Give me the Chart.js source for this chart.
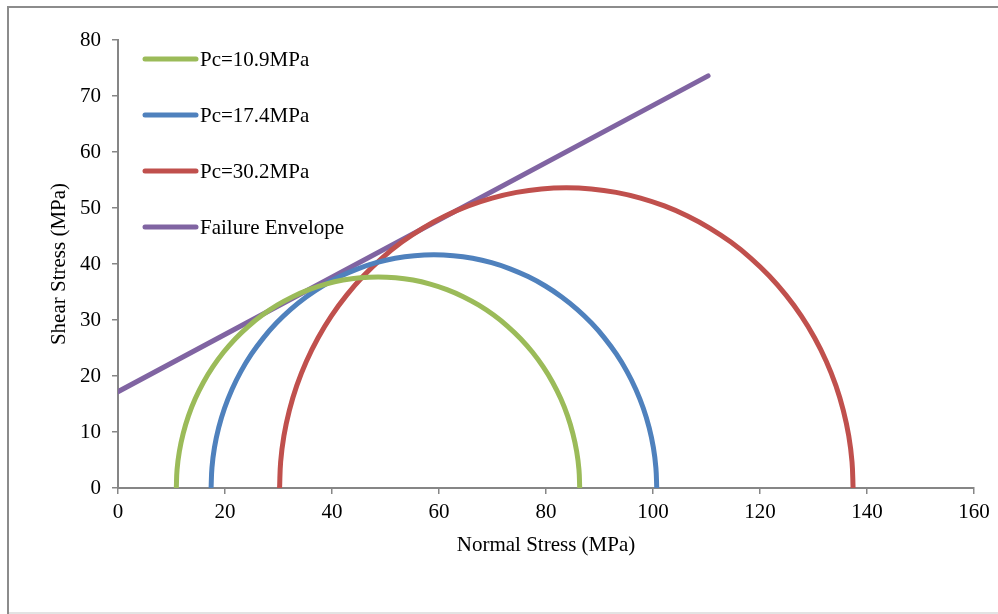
<!DOCTYPE html>
<html>
<head>
<meta charset="utf-8">
<script src="https://cdn.jsdelivr.net/npm/chart.js@4.4.0/dist/chart.umd.min.js"></script>
<style>
  html, body { margin: 0; padding: 0; background: #fff; }
  #wrap { position: relative; width: 998px; height: 614px; overflow: hidden; }
  #c { position: absolute; left: 0; top: 0; }
  #frameTop { position: absolute; left: 7px; top: 6px; width: 991px; height: 2px; background: #8c8c8c; }
  #frameLeft { position: absolute; left: 7px; top: 6px; width: 2px; height: 608px; background: #8c8c8c; }
  #frameBottom { position: absolute; left: 9px; top: 612px; width: 989px; height: 2px; background: #e3e3e3; }
</style>
</head>
<body>
<div id="wrap">
  <canvas id="c" width="998" height="614"></canvas>
  <div id="frameTop"></div>
  <div id="frameLeft"></div>
  <div id="frameBottom"></div>
</div>
<script>
// ---- data ----
const seriesLabels = ["Pc=10.9MPa", "Pc=17.4MPa", "Pc=30.2MPa", "Failure Envelope"];

const greenX = [10.9, 11.04, 11.47, 12.19, 13.17, 14.43, 15.95, 17.72, 19.72, 21.94, 24.37, 26.98, 29.75, 32.67, 35.71, 38.84, 42.06, 45.31, 48.6,
                51.89, 55.14, 58.36, 61.49, 64.53, 67.45, 70.22, 72.83, 75.26, 77.48, 79.48, 81.25, 82.77, 84.03, 85.01, 85.73, 86.16, 86.3];
const greenY = [0, 3.29, 6.54, 9.76, 12.89, 15.93, 18.85, 21.62, 24.23, 26.66, 28.88, 30.88, 32.65, 34.17, 35.43, 36.41, 37.13, 37.56, 37.7,
                37.56, 37.13, 36.41, 35.43, 34.17, 32.65, 30.88, 28.88, 26.66, 24.23, 21.62, 18.85, 15.93, 12.89, 9.76, 6.54, 3.29, 0];

const blueX = [17.4, 17.56, 18.03, 18.82, 19.91, 21.3, 22.98, 24.93, 27.15, 29.6, 32.28, 35.16, 38.22, 41.45, 44.81, 48.27, 51.82, 55.42, 59.05,
               62.68, 66.28, 69.83, 73.29, 76.65, 79.88, 82.94, 85.82, 88.5, 90.95, 93.17, 95.12, 96.8, 98.19, 99.28, 100.07, 100.54, 100.7];
const blueY = [0, 3.63, 7.23, 10.78, 14.24, 17.6, 20.83, 23.89, 26.77, 29.45, 31.9, 34.12, 36.07, 37.75, 39.14, 40.23, 41.02, 41.49, 41.65,
               41.49, 41.02, 40.23, 39.14, 37.75, 36.07, 34.12, 31.9, 29.45, 26.77, 23.89, 20.83, 17.6, 14.24, 10.78, 7.23, 3.63, 0];

const redX = [30.2, 30.4, 31.01, 32.03, 33.43, 35.22, 37.38, 39.89, 42.74, 45.9, 49.35, 53.05, 57.0, 61.15, 65.47, 69.93, 74.49, 79.13, 83.8,
              88.47, 93.11, 97.67, 102.13, 106.45, 110.6, 114.55, 118.25, 121.7, 124.86, 127.71, 130.22, 132.38, 134.17, 135.57, 136.59, 137.2, 137.4];
const redY = [0, 4.67, 9.31, 13.87, 18.33, 22.65, 26.8, 30.75, 34.45, 37.9, 41.06, 43.91, 46.42, 48.58, 50.37, 51.77, 52.79, 53.4, 53.6,
              53.4, 52.79, 51.77, 50.37, 48.58, 46.42, 43.91, 41.06, 37.9, 34.45, 30.75, 26.8, 22.65, 18.33, 13.87, 9.31, 4.67, 0];

const envelopeX = [0, 110.3];
const envelopeY = [17.2, 73.6];

const xTicks = [0, 20, 40, 60, 80, 100, 120, 140, 160];
const yTicks = [0, 10, 20, 30, 40, 50, 60, 70, 80];

const colors = ["#9BBB59", "#4F81BD", "#C0504D", "#8064A2"];

function pts(xs, ys) { return xs.map((x, i) => ({ x: x, y: ys[i] })); }

const FONT = "'Liberation Serif', 'Times New Roman', serif";

const legendPlugin = {
  id: 'customLegend',
  afterDatasetsDraw(chart) {
    const ctx = chart.ctx;
    ctx.save();
    chart.data.datasets.forEach((ds, i) => {
      const y = 59 + i * 56;
      ctx.strokeStyle = ds.borderColor;
      ctx.lineWidth = 5;
      ctx.lineCap = 'round';
      ctx.beginPath();
      ctx.moveTo(145, y);
      ctx.lineTo(196, y);
      ctx.stroke();
      ctx.fillStyle = '#000';
      ctx.font = '21px ' + FONT;
      ctx.textBaseline = 'middle';
      ctx.textAlign = 'left';
      ctx.fillText(ds.label, 200, y + 1);
    });
    ctx.restore();
  }
};

const datasets = [
  [greenX, greenY], [blueX, blueY], [redX, redY], [envelopeX, envelopeY]
].map((d, i) => ({
  label: seriesLabels[i],
  data: pts(d[0], d[1]),
  borderColor: colors[i],
  backgroundColor: colors[i],
  borderWidth: 5,
  pointRadius: 0,
  showLine: true,
  tension: i < 3 ? 0.4 : 0,
  borderCapStyle: i < 3 ? 'butt' : 'round',
  borderJoinStyle: 'round',
  fill: false
}));

new Chart(document.getElementById('c'), {
  type: 'scatter',
  data: { datasets: datasets },
  options: {
    responsive: false,
    animation: false,
    devicePixelRatio: 1,
    layout: { padding: { left: 0, top: 40, right: 24, bottom: 0 } },
    plugins: { legend: { display: false }, tooltip: { enabled: false } },
    scales: {
      x: {
        type: 'linear',
        min: 0, max: 160,
        afterBuildTicks: (s) => { s.ticks = xTicks.map(v => ({ value: v })); },
        afterFit: (s) => { s.height = 126; },
        grid: { display: true, drawOnChartArea: false, drawTicks: true, tickLength: 6, color: '#868686', lineWidth: 1.5 },
        border: { display: true, color: '#868686', width: 2 },
        ticks: { color: '#000', font: { family: FONT, size: 21 }, padding: 6, maxRotation: 0 },
        title: { display: true, text: 'Normal Stress (MPa)', color: '#000', font: { family: FONT, size: 21 }, padding: { top: 0, bottom: 56 } }
      },
      y: {
        type: 'linear',
        min: 0, max: 80,
        afterBuildTicks: (s) => { s.ticks = yTicks.map(v => ({ value: v })); },
        afterFit: (s) => { s.width = 118; },
        grid: { display: true, drawOnChartArea: false, drawTicks: true, tickLength: 6, color: '#868686', lineWidth: 1.5 },
        border: { display: true, color: '#868686', width: 2 },
        ticks: { color: '#000', font: { family: FONT, size: 21 }, padding: 11 },
        title: { display: true, text: 'Shear Stress (MPa)', color: '#000', font: { family: FONT, size: 21 }, padding: { top: 47, bottom: 0 } }
      }
    }
  },
  plugins: [legendPlugin]
});
</script>
</body>
</html>
